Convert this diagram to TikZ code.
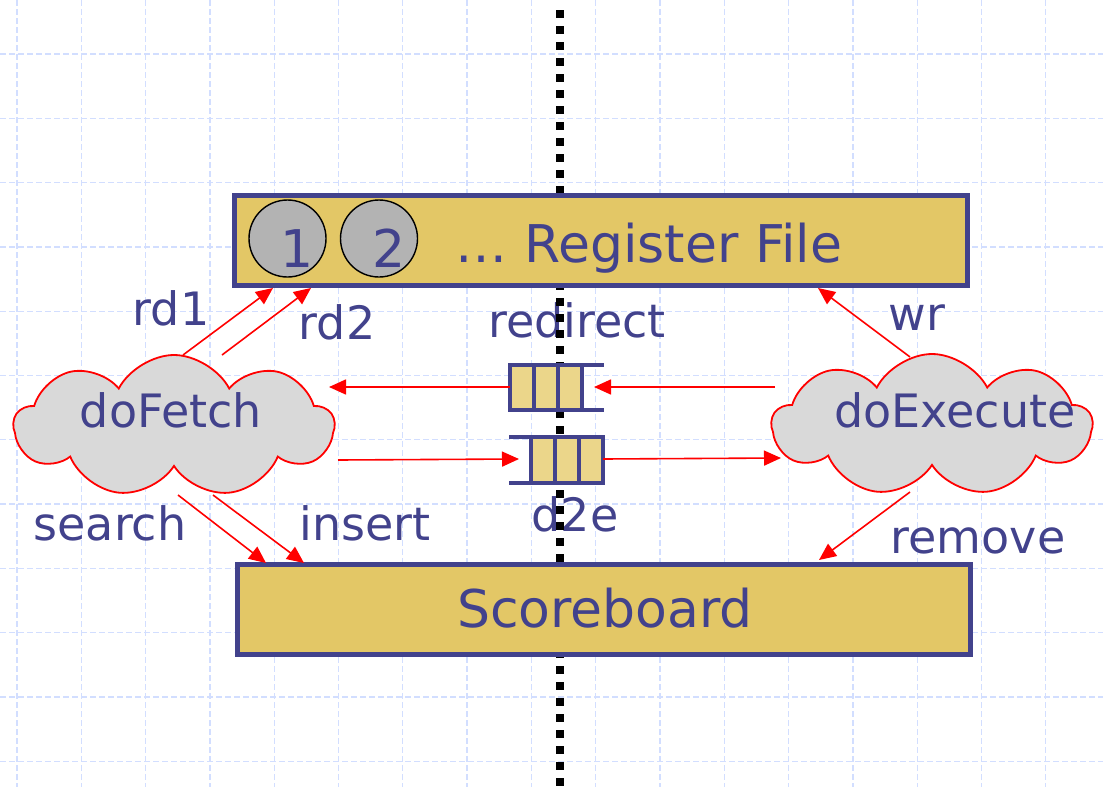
\documentclass[tikz,border=0pt]{standalone}
\usepackage{fontspec}
\setmainfont{DejaVu Sans}
\usetikzlibrary{shapes.symbols,arrows.meta}

\definecolor{navy}{HTML}{42428C}
\definecolor{boxfill}{HTML}{E3C766}
\definecolor{cellfill}{HTML}{EBD68A}
\definecolor{cloudfill}{HTML}{D9D9D9}
\definecolor{discfill}{HTML}{B3B3B3}
\definecolor{gridblue}{HTML}{D2DEFF}

\tikzset{
  lbl/.style={text=navy, font=\fontsize{46}{50}\selectfont, inner sep=0pt, anchor=base},
  biglbl/.style={lbl, font=\fontsize{52}{56}\selectfont},
  unitbox/.style={draw=navy, fill=boxfill, line width=5pt, inner sep=0pt,
                  minimum width=733pt, minimum height=90pt},
  disc/.style={circle, draw=black, line width=1.4pt, fill=discfill,
               minimum size=77pt, inner sep=0pt},
  puff/.style={cloud, cloud puffs=9, cloud puff arc=125, aspect=2.2,
               draw=red, line width=1.8pt, fill=cloudfill, inner sep=0pt,
               minimum width=320pt, minimum height=142pt},
  flow/.style={draw=red, line width=1.6pt, -{Triangle[length=17pt,width=15pt]}},
  fifoline/.style={draw=navy, line width=4pt},
  cell/.style={draw=navy, fill=cellfill, line width=4pt},
  boundary/.style={line width=8pt, dash pattern=on 8pt off 8pt},
  gridline/.style={draw=gridblue, line width=1.3pt, dash pattern=on 6pt off 3pt}
}

\begin{document}
\begin{tikzpicture}[x=1pt, y=-1pt]
  \useasboundingbox (0,0) rectangle (1103,787);

  % background grid
  \foreach \k in {0,...,16} {
    \draw[gridline] ({17+64.3*\k},0) -- ({17+64.3*\k},787);
  }
  \foreach \k in {0,...,11} {
    \draw[gridline] (0,{54+64.3*\k}) -- (1103,{54+64.3*\k});
  }

  % labels that sit under the stage boundary
  \node[lbl] (lredirect) at (577,337) {redirect};
  \node[lbl] (ld2e) at (575,531) {d2e};

  % stage boundary
  \coordinate (btop) at (560,10);
  \coordinate (bbot) at (560,795);
  \draw[boundary] (btop) -- (bbot);

  % register file and scoreboard
  \node[unitbox] (rf) at (601,240.5) {};
  \node[unitbox] (sb) at (604,609.5) {};
  \node[disc] (r1) at (287.5,238.5) {};
  \node[disc] (r2) at (379,238.5) {};
  \node[biglbl] (n1) at (297,267) {1};
  \node[biglbl] (n2) at (389,267) {2};
  \node[biglbl] (lrf) at (649,262) {… Register File};
  \node[biglbl] (lsb) at (605,627) {Scoreboard};

  % rules
  \node[puff] (fetch) at (174,426) {};
  \node[puff] (exec) at (932,425) {};
  \node[lbl] (lfetch) at (171,427) {doFetch};
  \node[lbl] (lexec) at (955,427) {doExecute};

  % redirect fifo (enqueued from the right)
  \draw[fifoline] (582,365) -- (604,365) (582,410) -- (604,410);
  \draw[cell] (510,365) rectangle (534,410);
  \draw[cell] (534,365) rectangle (558,410);
  \draw[cell] (558,365) rectangle (582,410);
  \coordinate (redin) at (594,387);
  \coordinate (redout) at (510,387);

  % d2e fifo (enqueued from the left)
  \draw[fifoline] (509,437) -- (531,437) (509,483) -- (531,483);
  \draw[cell] (531,437) rectangle (555,483);
  \draw[cell] (555,437) rectangle (579,483);
  \draw[cell] (579,437) rectangle (603,483);
  \coordinate (d2ein) at (519,459);
  \coordinate (d2eout) at (603,459);

  % connector end points
  \coordinate (rd1s) at (183,355);  \coordinate (rd1t) at (273,288);
  \coordinate (rd2s) at (222,355);  \coordinate (rd2t) at (311,288);
  \coordinate (wrs)  at (910,357);  \coordinate (wrt)  at (818,288);
  \coordinate (ses)  at (178,495);  \coordinate (set)  at (266,563);
  \coordinate (ins)  at (213,495);  \coordinate (int)  at (304,563);
  \coordinate (rms)  at (910,492);  \coordinate (rmt)  at (819,560);
  \coordinate (exout) at (775,387); \coordinate (fin)   at (329,387);
  \coordinate (fout)  at (338,460); \coordinate (exin)  at (781,458);

  \draw[flow] (rd1s) -- (rd1t);
  \draw[flow] (rd2s) -- (rd2t);
  \draw[flow] (wrs) -- (wrt);
  \draw[flow] (ses) -- (set);
  \draw[flow] (ins) -- (int);
  \draw[flow] (rms) -- (rmt);
  \draw[flow] (exout) -- (redin);
  \draw[flow] (redout) -- (fin);
  \draw[flow] (fout) -- (d2ein);
  \draw[flow] (d2eout) -- (exin);

  % method labels
  \node[lbl] (lrd1) at (171,325) {rd1};
  \node[lbl] (lrd2) at (337,339) {rd2};
  \node[lbl] (lwr) at (917,330) {wr};
  \node[lbl] (lsearch) at (110,540) {search};
  \node[lbl] (linsert) at (365,540) {insert};
  \node[lbl] (lremove) at (978,553) {remove};
\end{tikzpicture}
\end{document}
